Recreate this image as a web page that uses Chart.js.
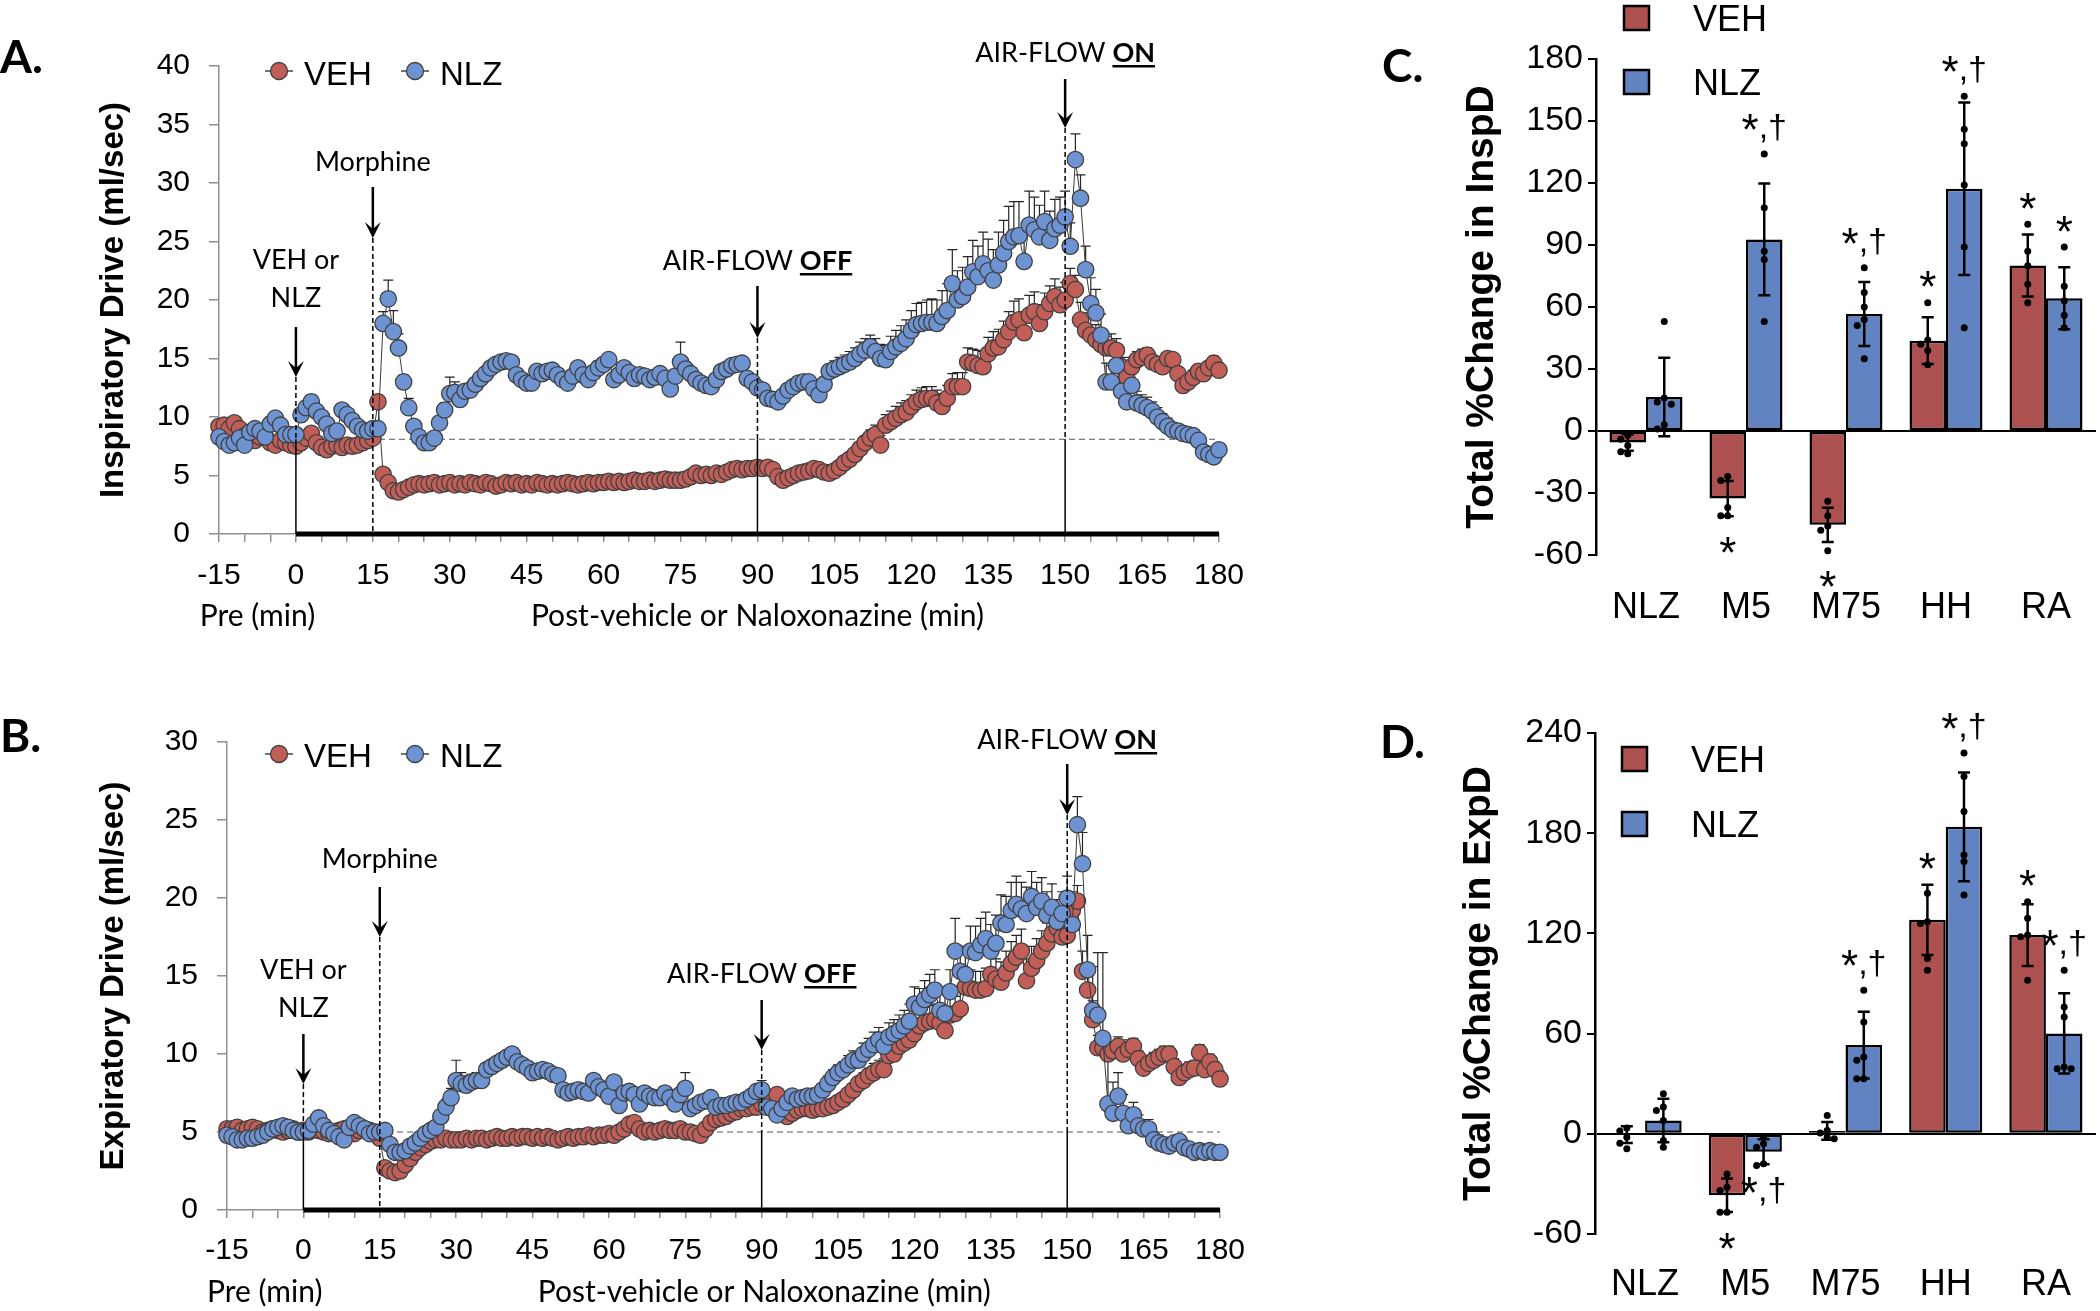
<!DOCTYPE html>
<html>
<head>
<meta charset="utf-8">
<title>Inspiratory / expiratory drive - VEH vs NLZ</title>
<script src="https://cdn.jsdelivr.net/npm/chart.js@4.4.1/dist/chart.umd.min.js"></script>
<style>
  html, body { margin: 0; padding: 0; background: #fff; }
  #fig { position: relative; width: 2100px; height: 1311px; overflow: hidden; background: #fff; }
  #fig canvas { position: absolute; }
  .panel-letter { position: absolute; font: bold 46px Lato, "Open Sans", sans-serif; line-height: 46px; color: #000; }
</style>
</head>
<body>
<div id="fig">
  <canvas id="chartA" width="1260" height="650" style="left:0;top:0"></canvas>
  <canvas id="chartB" width="1260" height="631" style="left:0;top:680px"></canvas>
  <canvas id="chartC" width="800" height="650" style="left:1300px;top:0"></canvas>
  <canvas id="chartD" width="800" height="651" style="left:1300px;top:660px"></canvas>
  <div class="panel-letter" style="left:0;top:33px">A.</div>
  <div class="panel-letter" style="left:0;top:712px">B.</div>
  <div class="panel-letter" style="left:1382px;top:42px">C.</div>
  <div class="panel-letter" style="left:1380px;top:718px">D.</div>
</div>
<script>
// ---- time axis (min), one sample per minute ----
const minutes = [];
for (let m = -15; m <= 180; m++) minutes.push(m);

// Panel A: inspiratory drive (ml/sec), blocks of 15 min: -15..-1, 0..14, 15..29, ... 165..179, 180
const inspVEH = [
  9.2, 9.3, 9.0, 9.5, 9.0, 8.4, 8.2, 8.0, 8.3, 8.4, 7.8, 7.6, 8.0, 7.8, 7.6,
  7.5, 7.8, 8.2, 8.6, 7.8, 7.4, 7.2, 7.5, 7.6, 7.4, 7.6, 7.5, 7.6, 7.8, 8.0,
  8.2, 11.3, 5.1, 4.4, 3.7, 3.6, 3.8, 4.0, 4.2, 4.3, 4.2, 4.3, 4.4, 4.2, 4.3,
  4.4, 4.2, 4.3, 4.2, 4.4, 4.3, 4.2, 4.4, 4.3, 4.1, 4.2, 4.4, 4.3, 4.4, 4.2,
  4.3, 4.2, 4.4, 4.3, 4.2, 4.3, 4.2, 4.3, 4.4, 4.3, 4.2, 4.3, 4.4, 4.3, 4.4,
  4.4, 4.5, 4.4, 4.5, 4.4, 4.5, 4.6, 4.5, 4.5, 4.6, 4.5, 4.6, 4.7, 4.6, 4.6,
  4.6, 4.7, 4.9, 5.2, 5.0, 5.1, 5.0, 5.2, 5.1, 5.3, 5.5, 5.6, 5.5, 5.6, 5.6,
  5.7, 5.6, 5.7, 5.5, 4.9, 4.6, 4.8, 5.0, 5.2, 5.3, 5.4, 5.6, 5.5, 5.3, 5.2,
  5.4, 5.7, 6.1, 6.4, 6.8, 7.3, 7.8, 8.2, 8.5, 7.6, 9.3, 9.6, 9.9, 10.2, 10.4,
  10.9, 11.3, 11.5, 11.6, 11.6, 11.2, 10.9, 11.6, 12.6, 12.6, 12.6, 14.7, 14.6, 14.4, 14.3,
  15.4, 15.9, 16.0, 16.6, 17.3, 18.1, 18.3, 17.2, 18.7, 19.0, 18.0, 19.0, 19.7, 20.3, 19.6,
  20.0, 21.4, 20.9, 18.3, 17.4, 17.0, 16.6, 16.2, 15.9, 15.9, 15.7, 14.3, 13.4, 14.3, 14.9,
  15.1, 15.3, 14.7, 14.5, 14.3, 15.0, 14.9, 13.7, 12.7, 13.0, 13.4, 13.9, 13.7, 14.2, 14.6,
  14.0
];
const inspVEHerr = [
  0.4, 0.4, 0.3, 0.4, 0.3, 0.3, 0.3, 0.3, 0.3, 0.3, 0.3, 0.3, 0.3, 0.3, 0.3,
  0.3, 0.3, 0.3, 0.4, 0.3, 0.3, 0.3, 0.3, 0.3, 0.3, 0.3, 0.3, 0.3, 0.3, 0.3,
  0.4, 0.6, 0.3, 0.3, 0.2, 0.2, 0.2, 0.2, 0.2, 0.2, 0.2, 0.2, 0.2, 0.2, 0.2,
  0.2, 0.2, 0.2, 0.2, 0.2, 0.2, 0.2, 0.2, 0.2, 0.2, 0.2, 0.2, 0.2, 0.2, 0.2,
  0.2, 0.2, 0.2, 0.2, 0.2, 0.2, 0.2, 0.2, 0.2, 0.2, 0.2, 0.2, 0.2, 0.2, 0.2,
  0.2, 0.2, 0.2, 0.2, 0.2, 0.2, 0.2, 0.2, 0.2, 0.2, 0.2, 0.2, 0.2, 0.2, 0.2,
  0.2, 0.2, 0.2, 0.3, 0.2, 0.2, 0.2, 0.2, 0.2, 0.2, 0.2, 0.2, 0.2, 0.2, 0.2,
  0.2, 0.2, 0.2, 0.2, 0.2, 0.2, 0.2, 0.2, 0.2, 0.2, 0.2, 0.2, 0.2, 0.2, 0.2,
  0.3, 0.3, 0.4, 0.4, 0.5, 0.5, 0.6, 0.7, 0.8, 0.8, 0.9, 0.9, 1.0, 1.0, 1.0,
  1.0, 1.0, 1.0, 1.0, 1.0, 1.1, 1.1, 1.1, 1.1, 1.2, 1.2, 1.2, 1.2, 1.3, 1.3,
  1.4, 1.4, 1.5, 1.6, 1.7, 1.8, 1.8, 1.8, 1.7, 1.7, 1.6, 1.6, 1.5, 1.5, 1.5,
  1.5, 1.3, 1.2, 1.5, 1.5, 1.4, 1.3, 1.2, 1.0, 1.2, 1.0, 0.8, 0.8, 0.8, 0.7,
  0.7, 0.6, 0.6, 0.6, 0.5, 0.5, 0.5, 0.5, 0.5, 0.5, 0.6, 0.6, 0.5, 0.5, 0.6,
  0.6
];
const inspNLZ = [
  8.3, 7.9, 7.6, 7.8, 8.2, 7.6, 8.7, 9.0, 8.8, 8.3, 9.4, 9.9, 9.3, 8.5, 8.5,
  8.5, 10.2, 10.8, 11.3, 10.5, 10.0, 9.4, 8.6, 8.8, 10.6, 10.2, 9.7, 9.2, 8.9, 8.8,
  9.0, 9.0, 18.0, 20.1, 17.3, 15.9, 13.0, 10.8, 9.2, 8.3, 7.8, 7.8, 8.2, 9.5, 10.6,
  12.0, 12.1, 11.5, 12.2, 12.3, 12.8, 13.3, 13.7, 14.2, 14.5, 14.7, 14.8, 14.7, 13.6, 13.2,
  12.9, 12.9, 13.9, 13.7, 13.9, 14.0, 13.6, 13.2, 12.9, 13.5, 14.2, 13.6, 13.2, 13.8, 14.2,
  14.5, 14.9, 13.2, 13.6, 14.2, 13.8, 13.3, 13.6, 13.5, 13.2, 13.4, 13.7, 13.3, 12.4, 13.5,
  14.7, 14.1, 13.7, 13.2, 12.9, 12.7, 12.6, 13.2, 13.9, 14.1, 14.4, 14.5, 14.6, 13.3, 13.0,
  12.5, 12.3, 11.6, 11.5, 11.3, 11.8, 12.3, 12.6, 12.9, 13.0, 13.0, 12.4, 11.9, 12.8, 13.9,
  14.1, 14.3, 14.5, 14.7, 15.0, 15.4, 15.7, 16.0, 15.6, 15.0, 14.9, 15.6, 16.0, 16.3, 16.7,
  17.4, 17.9, 18.0, 18.1, 18.1, 18.0, 18.6, 19.1, 21.4, 20.0, 20.3, 21.1, 22.4, 22.0, 23.1,
  22.5, 21.7, 23.0, 24.0, 25.0, 25.4, 25.5, 23.3, 26.4, 26.0, 25.4, 26.7, 25.1, 26.1, 26.4,
  27.1, 24.6, 32.0, 28.7, 22.6, 19.7, 18.9, 17.0, 13.0, 13.0, 14.4, 12.2, 11.3, 12.7, 11.2,
  11.0, 10.8, 10.5, 10.0, 9.6, 9.2, 8.9, 8.8, 8.6, 8.5, 8.4, 8.0, 7.0, 6.8, 6.6,
  7.2
];
const inspNLZerr = [
  0.4, 0.4, 0.3, 0.4, 0.4, 0.5, 0.5, 0.4, 0.5, 0.5, 0.6, 0.5, 0.4, 0.4, 0.3,
  0.3, 0.5, 0.5, 0.6, 0.5, 0.4, 0.4, 0.3, 0.4, 0.5, 0.5, 0.4, 0.4, 0.3, 0.4,
  0.4, 0.4, 1.0, 1.6, 1.8, 1.2, 0.6, 0.8, 0.5, 0.3, 0.3, 0.3, 0.3, 0.4, 0.6,
  1.4, 0.9, 0.7, 0.6, 0.5, 0.5, 0.4, 0.4, 0.3, 0.3, 0.3, 0.3, 0.3, 0.3, 0.4,
  0.4, 0.4, 0.3, 0.3, 0.3, 0.3, 0.3, 0.4, 0.4, 0.3, 0.3, 0.4, 0.5, 0.6, 0.6,
  0.6, 0.5, 0.4, 0.4, 0.4, 0.4, 0.4, 0.4, 0.4, 0.5, 0.5, 0.4, 0.4, 0.4, 0.4,
  1.7, 0.6, 0.4, 0.4, 0.4, 0.4, 0.4, 0.4, 0.4, 0.4, 0.3, 0.3, 0.3, 0.4, 0.4,
  0.4, 0.5, 0.5, 0.5, 0.5, 0.5, 0.5, 0.5, 0.5, 0.5, 0.5, 0.6, 0.7, 0.6, 0.6,
  0.7, 0.8, 0.8, 0.9, 0.9, 1.0, 1.0, 1.0, 1.1, 1.2, 1.2, 1.3, 1.4, 1.5, 1.6,
  1.7, 1.8, 1.8, 1.9, 2.0, 2.0, 2.2, 2.3, 2.9, 2.5, 2.5, 2.6, 2.7, 2.6, 2.7,
  2.7, 2.6, 2.8, 2.8, 3.0, 3.0, 2.9, 2.6, 2.9, 2.8, 2.7, 2.6, 2.5, 2.5, 2.4,
  2.2, 2.0, 2.2, 2.0, 2.0, 2.2, 2.0, 1.8, 1.6, 1.4, 1.3, 1.2, 1.1, 1.0, 1.0,
  0.9, 0.9, 0.8, 0.8, 0.7, 0.7, 0.6, 0.6, 0.6, 0.5, 0.5, 0.5, 0.4, 0.4, 0.4,
  0.4
];

// Panel B: expiratory drive (ml/sec), same blocks
const expVEH = [
  5.2, 5.2, 5.3, 5.1, 5.2, 5.3, 5.2, 5.0, 5.1, 5.2, 5.1, 5.0, 5.1, 5.2, 5.0,
  5.1, 5.0, 5.2, 5.1, 5.0, 4.9, 5.0, 5.1, 5.2, 5.0, 4.9, 5.1, 5.2, 5.1, 5.0,
  4.6, 2.7, 2.5, 2.4, 2.5, 2.9, 3.3, 3.7, 4.0, 4.2, 4.4, 4.5, 4.5, 4.6, 4.5,
  4.5, 4.5, 4.6, 4.5, 4.6, 4.6, 4.5, 4.6, 4.7, 4.6, 4.6, 4.7, 4.6, 4.7, 4.7,
  4.6, 4.7, 4.6, 4.7, 4.6, 4.5, 4.6, 4.7, 4.6, 4.7, 4.7, 4.8, 4.7, 4.8, 4.8,
  4.9, 4.8, 5.0, 5.2, 5.5, 5.6, 5.2, 5.0, 5.1, 5.0, 5.1, 5.2, 5.1, 5.1, 5.2,
  5.0, 5.0, 4.9, 4.8, 5.2, 5.6, 5.8, 5.9, 6.0, 6.2, 6.3, 6.5, 6.5, 6.6, 6.6,
  6.8, 6.9, 7.2, 7.4, 6.3, 6.0, 6.2, 6.4, 6.5, 6.5, 6.4, 6.5, 6.5, 6.6, 6.7,
  6.9, 7.1, 7.4, 7.7, 8.1, 8.3, 8.6, 8.8, 9.0, 9.0, 9.9, 10.0, 10.5, 10.7, 10.9,
  11.3, 11.8, 12.0, 12.1, 12.2, 12.0, 11.5, 12.5, 12.6, 12.9, 14.3, 14.2, 14.1, 14.1, 14.2,
  15.1, 14.8, 14.6, 15.2, 15.8, 16.2, 16.6, 14.7, 15.5, 16.0, 16.6, 17.1, 17.7, 18.1, 17.5,
  17.6, 19.2, 19.8, 15.3, 14.1, 12.2, 10.4, 10.4, 10.0, 10.2, 10.5, 10.0, 10.3, 10.5, 9.7,
  9.1, 9.4, 9.6, 9.8, 10.0, 10.0, 9.2, 8.5, 8.8, 9.0, 9.1, 10.1, 9.0, 9.5, 9.0,
  8.4
];
const expVEHerr = [
  0.3, 0.3, 0.3, 0.3, 0.3, 0.3, 0.3, 0.3, 0.3, 0.3, 0.3, 0.3, 0.3, 0.3, 0.3,
  0.3, 0.3, 0.3, 0.3, 0.3, 0.3, 0.3, 0.3, 0.3, 0.3, 0.3, 0.3, 0.3, 0.3, 0.3,
  0.3, 0.3, 0.3, 0.3, 0.3, 0.3, 0.3, 0.2, 0.2, 0.2, 0.2, 0.2, 0.2, 0.2, 0.2,
  0.2, 0.2, 0.2, 0.2, 0.2, 0.2, 0.2, 0.2, 0.2, 0.2, 0.2, 0.2, 0.2, 0.2, 0.2,
  0.2, 0.2, 0.2, 0.2, 0.2, 0.2, 0.2, 0.2, 0.2, 0.2, 0.2, 0.2, 0.2, 0.2, 0.2,
  0.2, 0.2, 0.2, 0.2, 0.3, 0.3, 0.2, 0.2, 0.2, 0.2, 0.2, 0.2, 0.2, 0.2, 0.2,
  0.2, 0.2, 0.2, 0.2, 0.2, 0.3, 0.3, 0.3, 0.3, 0.3, 0.3, 0.3, 0.3, 0.3, 0.3,
  0.3, 0.3, 0.3, 0.3, 0.3, 0.3, 0.3, 0.3, 0.3, 0.3, 0.3, 0.3, 0.3, 0.3, 0.3,
  0.3, 0.3, 0.4, 0.4, 0.4, 0.5, 0.5, 0.6, 0.6, 0.7, 0.7, 0.8, 0.8, 0.8, 0.9,
  0.9, 0.9, 1.0, 1.0, 1.0, 1.0, 1.1, 1.1, 1.1, 1.2, 1.2, 1.2, 1.2, 1.2, 1.3,
  1.3, 1.3, 1.3, 1.4, 1.4, 1.4, 1.4, 1.4, 1.4, 1.4, 1.3, 1.3, 1.3, 1.2, 1.2,
  1.2, 1.2, 1.0, 1.3, 1.3, 1.2, 0.8, 0.7, 0.6, 0.6, 0.6, 0.6, 0.6, 0.5, 0.5,
  0.5, 0.5, 0.5, 0.5, 0.5, 0.5, 0.5, 0.5, 0.5, 0.5, 0.5, 0.5, 0.5, 0.5, 0.5,
  0.5
];
const expNLZ = [
  4.8, 4.7, 4.5, 4.5, 4.6, 4.6, 4.7, 4.8, 5.0, 5.2, 5.3, 5.4, 5.3, 5.1, 5.0,
  5.0, 5.1, 5.5, 5.9, 5.4, 5.1, 4.9, 4.7, 4.5, 5.3, 5.6, 5.4, 5.2, 4.9, 5.0,
  5.0, 5.1, 4.2, 3.7, 3.7, 3.8, 4.1, 4.3, 4.6, 4.9, 5.1, 5.3, 6.0, 6.6, 7.2,
  8.3, 8.1, 8.0, 8.2, 8.3, 8.3, 9.0, 9.2, 9.4, 9.6, 9.8, 10.0, 9.5, 9.3, 9.1,
  8.8, 8.9, 9.0, 8.9, 8.7, 8.6, 7.7, 7.5, 7.6, 7.7, 7.6, 7.5, 8.3, 7.9, 7.7,
  7.3, 8.2, 6.7, 7.5, 7.6, 7.4, 6.8, 7.5, 7.3, 7.2, 7.2, 7.5, 7.2, 6.8, 7.4,
  7.8, 6.5, 6.7, 6.9, 7.0, 7.2, 6.6, 6.7, 6.7, 6.8, 6.9, 6.9, 7.1, 7.3, 7.6,
  7.7, 6.6, 6.5, 6.1, 6.5, 6.9, 7.3, 7.1, 7.2, 7.3, 7.3, 7.4, 7.7, 8.1, 8.5,
  8.8, 9.0, 9.3, 9.6, 9.6, 10.0, 10.3, 10.6, 10.9, 10.5, 11.1, 11.3, 11.5, 11.8, 12.1,
  13.2, 13.0, 13.5, 13.8, 14.1, 12.8, 12.6, 14.0, 16.6, 15.3, 15.1, 16.6, 16.5, 17.0, 17.4,
  16.6, 17.1, 18.4, 18.3, 19.2, 19.6, 19.3, 19.0, 20.1, 19.4, 19.8, 18.9, 19.4, 18.5, 19.0,
  20.0, 18.3, 24.7, 22.2, 15.4, 12.8, 12.5, 11.0, 6.8, 6.2, 7.3, 6.2, 5.4, 6.1, 5.4,
  5.2, 5.2, 4.5, 4.3, 4.2, 4.1, 4.3, 4.4, 4.0, 3.9, 3.7, 3.8, 3.7, 3.8, 3.7,
  3.7
];
const expNLZerr = [
  0.3, 0.3, 0.3, 0.3, 0.3, 0.3, 0.3, 0.3, 0.3, 0.3, 0.3, 0.3, 0.3, 0.3, 0.3,
  0.3, 0.3, 0.3, 0.4, 0.3, 0.3, 0.3, 0.3, 0.3, 0.3, 0.3, 0.3, 0.3, 0.3, 0.3,
  0.3, 0.3, 0.3, 0.3, 0.3, 0.3, 0.3, 0.3, 0.3, 0.3, 0.3, 0.3, 0.4, 0.5, 0.6,
  1.3, 0.7, 0.6, 0.5, 0.5, 0.4, 0.4, 0.4, 0.3, 0.3, 0.3, 0.3, 0.3, 0.3, 0.3,
  0.3, 0.3, 0.3, 0.3, 0.3, 0.3, 0.3, 0.3, 0.3, 0.3, 0.3, 0.3, 0.3, 0.3, 0.3,
  0.3, 0.3, 0.3, 0.3, 0.3, 0.3, 0.3, 0.3, 0.3, 0.3, 0.3, 0.3, 0.4, 0.3, 0.3,
  1.0, 0.4, 0.3, 0.3, 0.3, 0.3, 0.3, 0.3, 0.3, 0.3, 0.3, 0.3, 0.3, 0.3, 0.4,
  0.6, 0.5, 0.4, 0.4, 0.4, 0.4, 0.4, 0.4, 0.4, 0.4, 0.4, 0.4, 0.4, 0.5, 0.5,
  0.5, 0.5, 0.6, 0.6, 0.6, 0.7, 0.7, 0.8, 0.8, 0.8, 0.9, 0.9, 1.0, 1.0, 1.1,
  1.1, 1.2, 1.2, 1.3, 1.3, 1.3, 1.4, 1.4, 2.1, 1.6, 1.6, 1.6, 1.7, 1.7, 1.7,
  1.7, 1.8, 1.8, 1.8, 1.8, 1.8, 1.7, 1.7, 1.6, 1.6, 1.5, 1.5, 1.5, 1.4, 1.4,
  1.4, 1.4, 1.8, 2.0, 2.2, 2.8, 4.0, 5.5, 3.5, 2.0, 1.5, 1.2, 1.0, 0.8, 0.7,
  0.6, 0.6, 0.5, 0.5, 0.4, 0.4, 0.4, 0.3, 0.3, 0.3, 0.3, 0.3, 0.3, 0.3, 0.3,
  0.3
];

// Panels C and D: total % change per challenge
const barCats = ['NLZ', 'M5', 'M75', 'HH', 'RA'];

const inspBarVEH = [-5.6, -32.7, -45.4, 43.7, 80.1];
const inspBarNLZ = [16.5, 92.7, 56.6, 117.2, 64.2];
const inspErrVEH = [4, 8.5, 8.3, 11.3, 15];
const inspErrNLZ = [19, 27, 15.5, 41.7, 15];
const inspDotsVEH = [[-2, -4, -7, -10, -11], [-22, -24, -37, -41, -41], [-34, -41, -46, -48, -58], [62, 44, 42, 39, 32], [100, 87, 80, 71, 62]];
const inspDotsNLZ = [[53, 16, 14, 13, 3, 1], [134, 108, 87, 83, 53], [79, 67, 60, 54, 51, 35], [162, 146, 139, 119, 89, 50], [89, 70, 63, 56, 50]];
const inspSigVEH = ['', '*', '*', '*', '*'];
const inspSigNLZ = ['', '*,\u2020', '*,\u2020', '*,\u2020', '*'];

const expBarVEH = [-0.5, -36.8, 1.7, 128.1, 119];
const expBarNLZ = [8, -10.7, 53.1, 183.8, 60.1];
const expErrVEH = [5, 10, 5.3, 21, 18.5];
const expErrNLZ = [13, 7.5, 20, 32.5, 24];
const expDotsVEH = [[3.5, 1.7, -2, -5.7, -9], [-24, -32, -34, -47, -47], [11, 2, 0.5, -2, -3], [144, 127, 126, 105, 98], [139, 129, 119, 118, 92]];
const expDotsNLZ = [[24, 16, 14, 8, -4, -8], [-2, -6, -8, -18, -19], [86, 67, 46, 44, 33, 33], [228, 214, 193, 167, 163, 143], [98, 76, 70, 40, 39, 39]];
const expSigVEH = ['', '*', '', '*', '*'];
const expSigNLZ = ['', '*,\u2020', '*,\u2020', '*,\u2020', '*,\u2020'];

// ---- style ----
const ARIAL = '"Liberation Sans", Arial, sans-serif';
const CALIBRI = 'Lato, "Open Sans", sans-serif';
const VEH_RED = '#c25e58';
const NLZ_BLUE = '#6d93d2';
const BAR_RED = '#ad5150';
const BAR_BLUE = '#6283c2';
const AXIS_GREY = '#8f8f8f';

// text made of plain / bold-underlined pieces, centred on cx
function drawRichText(ctx, parts, cx, base, size) {
  const fontOf = p => (p.b ? 'bold ' : '') + size + 'px ' + CALIBRI;
  let total = 0;
  parts.forEach(p => { ctx.font = fontOf(p); p.w = ctx.measureText(p.t).width; total += p.w; });
  let x = cx - total / 2;
  ctx.textAlign = 'left';
  ctx.textBaseline = 'alphabetic';
  ctx.fillStyle = '#000';
  parts.forEach(p => {
    ctx.font = fontOf(p);
    ctx.fillText(p.t, x, base);
    if (p.u) {
      ctx.fillRect(x, base + 3, p.w, 2.5);
    }
    x += p.w;
  });
}

function drawArrow(ctx, x, y0, y1) {
  ctx.strokeStyle = '#000';
  ctx.lineWidth = 2.5;
  ctx.beginPath();
  ctx.moveTo(x, y0);
  ctx.lineTo(x, y1 - 6);
  ctx.stroke();
  ctx.fillStyle = '#000';
  ctx.beginPath();
  ctx.moveTo(x, y1);
  ctx.lineTo(x - 8, y1 - 16);
  ctx.lineTo(x, y1 - 9);
  ctx.lineTo(x + 8, y1 - 16);
  ctx.closePath();
  ctx.fill();
}

// significance mark: asterisk drawn larger than the ",†" that may follow it
function drawSig(ctx, s, cx, center) {
  const big = 44, small = 34;
  const star = '*', rest = s.slice(1);
  ctx.font = big + 'px ' + ARIAL;
  const w1 = ctx.measureText(star).width;
  ctx.font = small + 'px ' + ARIAL;
  const w2 = rest ? ctx.measureText(rest).width : 0;
  const base = center + (rest ? 0.29 * small : 0.58 * big);
  let x = cx - (w1 + w2) / 2;
  ctx.textAlign = 'left';
  ctx.textBaseline = 'alphabetic';
  ctx.fillStyle = '#000';
  ctx.font = big + 'px ' + ARIAL;
  ctx.fillText(star, x, rest ? base + 0.16 * big : base);
  if (rest) {
    ctx.font = small + 'px ' + ARIAL;
    ctx.fillText(rest, x + w1, base);
  }
}

// decorations for the time-course panels (A, B)
const timeDecor = {
  id: 'timeDecor',
  beforeDatasetsDraw(chart, args, o) {
    const { ctx, chartArea: a, scales: { x, y } } = chart;
    ctx.save();
    // dashed baseline level
    const by = y.getPixelForValue(o.baseline);
    ctx.strokeStyle = '#555';
    ctx.lineWidth = 1.2;
    ctx.setLineDash([6, 4]);
    ctx.beginPath();
    ctx.moveTo(a.left, by);
    ctx.lineTo(a.right, by);
    ctx.stroke();
    ctx.setLineDash([]);
    // upward error bars (SEM)
    ctx.strokeStyle = '#262626';
    ctx.lineWidth = 1.2;
    chart.data.datasets.forEach((ds, di) => {
      const meta = chart.getDatasetMeta(di);
      ctx.beginPath();
      meta.data.forEach((pt, i) => {
        const top = y.getPixelForValue(ds.data[i].y + ds.errUp[i]);
        ctx.moveTo(pt.x, pt.y);
        ctx.lineTo(pt.x, top);
        ctx.moveTo(pt.x - 5, top);
        ctx.lineTo(pt.x + 5, top);
      });
      ctx.stroke();
    });
    ctx.restore();
  },
  afterDatasetsDraw(chart, args, o) {
    const { ctx, chartArea: a, scales: { x, y } } = chart;
    const by = y.getPixelForValue(o.baseline);
    ctx.save();
    // heavy line under the post-treatment period
    ctx.strokeStyle = '#000';
    ctx.lineWidth = 5;
    ctx.beginPath();
    ctx.moveTo(x.getPixelForValue(0), a.bottom);
    ctx.lineTo(x.getPixelForValue(180), a.bottom);
    ctx.stroke();

    // event markers
    o.events.forEach(ev => {
      const px = x.getPixelForValue(ev.at);
      ctx.strokeStyle = '#000';
      ctx.lineWidth = 1.5;
      ctx.setLineDash([5, 3]);
      ctx.beginPath();
      ctx.moveTo(px, ev.tip);
      ctx.lineTo(px, ev.dashedAll ? a.bottom : by);
      ctx.stroke();
      ctx.setLineDash([]);
      if (!ev.dashedAll) {
        ctx.beginPath();
        ctx.moveTo(px, by);
        ctx.lineTo(px, a.bottom);
        ctx.stroke();
      }
      drawArrow(ctx, px, ev.tail, ev.tip);
      ev.lines.forEach((ln, k) => drawRichText(ctx, ln, px, ev.base[k], 27));
    });

    // legend
    o.legend.forEach(it => {
      const ds = chart.data.datasets[it.ds];
      ctx.strokeStyle = '#444';
      ctx.lineWidth = 1.5;
      ctx.beginPath();
      ctx.moveTo(it.x - 14, it.y);
      ctx.lineTo(it.x + 14, it.y);
      ctx.stroke();
      ctx.fillStyle = ds.pointBackgroundColor;
      ctx.beginPath();
      ctx.arc(it.x, it.y, 8.5, 0, Math.PI * 2);
      ctx.fill();
      ctx.strokeStyle = '#404040';
      ctx.lineWidth = 1.3;
      ctx.stroke();
      ctx.fillStyle = '#000';
      ctx.font = '33px ' + ARIAL;
      ctx.textAlign = 'left';
      ctx.textBaseline = 'alphabetic';
      ctx.fillText(ds.label, it.x + 25, it.base);
    });

    // two-part x axis title
    ctx.fillStyle = '#000';
    ctx.font = '30px ' + CALIBRI;
    ctx.textAlign = 'center';
    ctx.textBaseline = 'alphabetic';
    o.subTitles.forEach(st => ctx.fillText(st.text, x.getPixelForValue(st.at), o.subBase));
    ctx.restore();
  }
};

function series(label, values, errs, fill, order) {
  return {
    label: label,
    order: order,
    errUp: errs,
    data: minutes.map((m, i) => ({ x: m, y: values[i] })),
    showLine: true,
    borderColor: '#3a3a3a',
    borderWidth: 1,
    pointRadius: 8.2,
    pointBackgroundColor: fill,
    pointBorderColor: '#404040',
    pointBorderWidth: 1.3,
    clip: false
  };
}

function makeTimeChart(id, o) {
  return new Chart(document.getElementById(id), {
    type: 'scatter',
    data: {
      datasets: [
        series('VEH', o.veh, o.vehErr, VEH_RED, 1),
        series('NLZ', o.nlz, o.nlzErr, NLZ_BLUE, 0)
      ]
    },
    options: {
      responsive: false,
      animation: false,
      devicePixelRatio: 1,
      layout: { padding: { top: o.top, right: 30, left: 0, bottom: 0 } },
      plugins: {
        legend: { display: false },
        tooltip: { enabled: false },
        timeDecor: o.decor
      },
      scales: {
        x: {
          type: 'linear',
          min: -15,
          max: 180,
          ticks: {
            stepSize: 5,
            autoSkip: false,
            maxRotation: 0,
            padding: o.xPad,
            color: '#000',
            font: { family: ARIAL, size: 30 },
            callback: v => (v % 15 === 0 ? String(v) : '')
          },
          grid: { drawOnChartArea: false, tickLength: 8, color: AXIS_GREY, lineWidth: 1.5 },
          border: { color: AXIS_GREY, width: 1.5 },
          afterFit: s => { s.height = o.xAxisH; }
        },
        y: {
          min: 0,
          max: o.yMax,
          ticks: { stepSize: 5, padding: 19, color: '#000', font: { family: ARIAL, size: 30 } },
          grid: { drawOnChartArea: false, tickLength: 10, color: AXIS_GREY, lineWidth: 1.5 },
          border: { color: AXIS_GREY, width: 1.5 },
          title: {
            display: true,
            text: o.yTitle,
            color: '#000',
            font: { family: ARIAL, size: 33, weight: 'bold' },
            padding: { top: 94, bottom: 0 }
          },
          afterFit: s => { s.width = o.yAxisW; }
        }
      }
    },
    plugins: [timeDecor]
  });
}

// error bars, individual animals, significance marks and legend for C, D
const barDecor = {
  id: 'barDecor',
  afterDatasetsDraw(chart, args, o) {
    const { ctx, scales: { y } } = chart;
    ctx.save();
    chart.data.datasets.forEach((ds, di) => {
      const meta = chart.getDatasetMeta(di);
      meta.data.forEach((bar, i) => {
        const v = ds.data[i];
        const e = ds.err[i];
        const bx = bar.x;
        const yHi = y.getPixelForValue(v + e);
        const yLo = y.getPixelForValue(v - e);
        ctx.strokeStyle = '#000';
        ctx.lineWidth = 2.5;
        ctx.beginPath();
        ctx.moveTo(bx, yHi); ctx.lineTo(bx, yLo);
        ctx.moveTo(bx - 6, yHi); ctx.lineTo(bx + 6, yHi);
        ctx.moveTo(bx - 6, yLo); ctx.lineTo(bx + 6, yLo);
        ctx.stroke();

        // dots, nudged sideways when they would sit on top of each other
        const placed = [];
        ctx.fillStyle = '#000';
        ds.dots[i].forEach(d => {
          const py = y.getPixelForValue(d);
          let off = 0;
          for (const c of [0, -7, 7, -14, 14]) {
            if (!placed.some(p => p.off === c && Math.abs(p.py - py) < 6.5)) { off = c; break; }
          }
          placed.push({ py: py, off: off });
          ctx.beginPath();
          ctx.arc(bx + off, py, 3.5, 0, Math.PI * 2);
          ctx.fill();
        });

        const s = ds.sig[i];
        if (s) {
          const up = v >= 0;
          const ext = up ? Math.max(v + e, ...ds.dots[i]) : Math.min(v - e, ...ds.dots[i]);
          const center = y.getPixelForValue(ext) + (up ? -26 : 26);
          drawSig(ctx, s, bx, center);
        }
      });
    });

    // legend
    o.legend.forEach(it => {
      const ds = chart.data.datasets[it.ds];
      ctx.fillStyle = ds.backgroundColor;
      ctx.fillRect(it.x, it.y, 25, 24);
      ctx.strokeStyle = '#000';
      ctx.lineWidth = 2.5;
      ctx.strokeRect(it.x, it.y, 25, 24);
      ctx.fillStyle = '#000';
      ctx.font = '36px ' + ARIAL;
      ctx.textAlign = 'left';
      ctx.textBaseline = 'alphabetic';
      ctx.fillText(ds.label, it.x + 69, it.y + 25);
    });
    ctx.restore();
  }
};

function barSet(label, values, errs, dots, sig, color) {
  return {
    label: label,
    data: values,
    err: errs,
    dots: dots,
    sig: sig,
    backgroundColor: color,
    borderColor: '#000',
    borderWidth: 2.5,
    borderSkipped: false,
    categoryPercentage: 0.73,
    barPercentage: 1.0
  };
}

function makeBarChart(id, o) {
  return new Chart(document.getElementById(id), {
    type: 'bar',
    data: {
      labels: barCats,
      datasets: [
        barSet('VEH', o.veh, o.vehErr, o.vehDots, o.vehSig, BAR_RED),
        barSet('NLZ', o.nlz, o.nlzErr, o.nlzDots, o.nlzSig, BAR_BLUE)
      ]
    },
    options: {
      responsive: false,
      animation: false,
      devicePixelRatio: 1,
      layout: { padding: { top: o.top, right: 4, left: 0, bottom: 0 } },
      plugins: {
        legend: { display: false },
        tooltip: { enabled: false },
        barDecor: { legend: o.legend }
      },
      scales: {
        x: {
          grid: { display: false },
          border: { display: false },
          ticks: { color: '#000', padding: o.xPad, font: { family: ARIAL, size: 36 } },
          afterFit: s => { s.height = o.xAxisH; }
        },
        y: {
          min: o.yMin,
          max: o.yMax,
          ticks: { stepSize: o.step, padding: 5, color: '#000', font: { family: ARIAL, size: 34 } },
          grid: {
            color: c => (c.tick && c.tick.value === 0 ? '#000' : 'rgba(0,0,0,0)'),
            lineWidth: 2,
            tickColor: '#000',
            tickLength: 8,
            tickWidth: 2
          },
          border: { color: '#000', width: 2.5 },
          title: {
            display: true,
            text: o.yTitle,
            color: '#000',
            font: { family: ARIAL, size: 39, weight: 'bold' },
            padding: { top: o.titlePad, bottom: 0 }
          },
          afterFit: s => { s.width = o.yAxisW; }
        }
      }
    },
    plugins: [barDecor]
  });
}

const offText = [{ t: 'AIR-FLOW ' }, { t: 'OFF', b: true, u: true }];
const onText = [{ t: 'AIR-FLOW ' }, { t: 'ON', b: true, u: true }];

makeTimeChart('chartA', {
  veh: inspVEH, vehErr: inspVEHerr, nlz: inspNLZ, nlzErr: inspNLZerr,
  yMax: 40, yTitle: 'Inspiratory Drive (ml/sec)',
  top: 66, yAxisW: 219, xAxisH: 116, xPad: 16,
  decor: {
    baseline: 8.1,
    subBase: 626,
    subTitles: [{ text: 'Pre (min)', at: -7.5 }, { text: 'Post-vehicle or Naloxonazine (min)', at: 90 }],
    legend: [{ ds: 0, x: 279, y: 71, base: 85 }, { ds: 1, x: 415, y: 71, base: 85 }],
    events: [
      { at: 0, lines: [[{ t: 'VEH or' }], [{ t: 'NLZ' }]], base: [269, 307], tail: 327, tip: 377 },
      { at: 15, lines: [[{ t: 'Morphine' }]], base: [171], tail: 187, tip: 238, dashedAll: true },
      { at: 90, lines: [offText], base: [270], tail: 286, tip: 338 },
      { at: 150, lines: [onText], base: [62], tail: 79, tip: 128 }
    ]
  }
});

makeTimeChart('chartB', {
  veh: expVEH, vehErr: expVEHerr, nlz: expNLZ, nlzErr: expNLZerr,
  yMax: 30, yTitle: 'Expiratory Drive (ml/sec)',
  top: 62, yAxisW: 227, xAxisH: 101, xPad: 15,
  decor: {
    baseline: 5.0,
    subBase: 622,
    subTitles: [{ text: 'Pre (min)', at: -7.6 }, { text: 'Post-vehicle or Naloxonazine (min)', at: 90.5 }],
    legend: [{ ds: 0, x: 279, y: 74, base: 87 }, { ds: 1, x: 415, y: 74, base: 87 }],
    events: [
      { at: 0, lines: [[{ t: 'VEH or' }], [{ t: 'NLZ' }]], base: [299, 337], tail: 354, tip: 404 },
      { at: 15, lines: [[{ t: 'Morphine' }]], base: [188], tail: 207, tip: 257, dashedAll: true },
      { at: 90, lines: [offText], base: [303], tail: 320, tip: 370 },
      { at: 150, lines: [onText], base: [69], tail: 84, tip: 135 }
    ]
  }
});

makeBarChart('chartC', {
  veh: inspBarVEH, vehErr: inspErrVEH, vehDots: inspDotsVEH, vehSig: inspSigVEH,
  nlz: inspBarNLZ, nlzErr: inspErrNLZ, nlzDots: inspDotsNLZ, nlzSig: inspSigNLZ,
  yMin: -60, yMax: 180, step: 30, yTitle: 'Total %Change in InspD',
  top: 59, yAxisW: 296, xAxisH: 95, xPad: 23, titlePad: 159,
  legend: [{ ds: 0, x: 324, y: 6 }, { ds: 1, x: 324, y: 70 }]
});

makeBarChart('chartD', {
  veh: expBarVEH, vehErr: expErrVEH, vehDots: expDotsVEH, vehSig: expSigVEH,
  nlz: expBarNLZ, nlzErr: expErrNLZ, nlzDots: expDotsNLZ, nlzSig: expSigNLZ,
  yMin: -60, yMax: 240, step: 60, yTitle: 'Total %Change in ExpD',
  top: 73, yAxisW: 295, xAxisH: 77, xPad: 21, titlePad: 156,
  legend: [{ ds: 0, x: 322, y: 87 }, { ds: 1, x: 322, y: 152 }]
});
</script>
</body>
</html>
